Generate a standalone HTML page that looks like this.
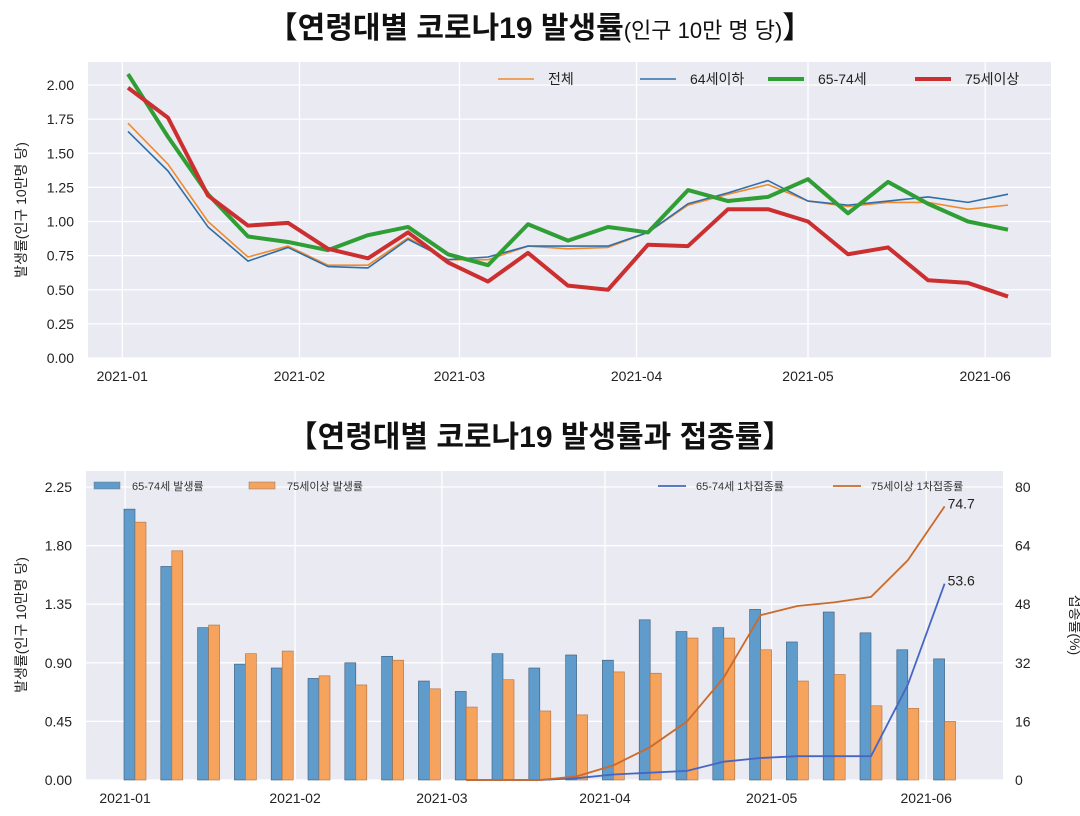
<!DOCTYPE html>
<html><head><meta charset="utf-8">
<style>
body{margin:0;background:#fff;}
svg text{font-family:"Liberation Sans","Noto Sans CJK KR",sans-serif;}
</style></head>
<body>
<svg id="svg" width="1080" height="811" viewBox="0 0 1080 811" xmlns="http://www.w3.org/2000/svg">
<text x="540" y="38" text-anchor="middle" font-size="30" font-weight="bold" fill="#111">【연령대별 코로나19 발생률<tspan font-size="22" font-weight="normal">(인구 10만 명 당)</tspan>】</text>
<text x="540" y="447" text-anchor="middle" font-size="30" font-weight="bold" fill="#111">【연령대별 코로나19 발생률과 접종률】</text>
<g id="top"></g>
<g id="bot"></g>
</svg>
<script>
const weeks = 23;
const monthLabels = ["2021-01","2021-02","2021-03","2021-04","2021-05","2021-06"];
const monthDayOffsets = [-1,30,58,89,119,150]; // days from first data week
const topYTicks = [0,0.25,0.5,0.75,1.0,1.25,1.5,1.75,2.0];
const total = [1.72,1.42,1.00,0.74,0.82,0.68,0.68,0.88,0.72,0.72,0.82,0.80,0.81,0.92,1.12,1.20,1.27,1.15,1.11,1.14,1.14,1.09,1.12];
const under64 = [1.66,1.37,0.96,0.71,0.81,0.67,0.66,0.87,0.72,0.74,0.82,0.82,0.82,0.92,1.13,1.21,1.30,1.15,1.12,1.15,1.18,1.14,1.20];
const age6574 = [2.08,1.62,1.20,0.89,0.85,0.79,0.90,0.96,0.76,0.68,0.98,0.86,0.96,0.92,1.23,1.15,1.18,1.31,1.06,1.29,1.13,1.00,0.94];
const age75 = [1.98,1.76,1.19,0.97,0.99,0.80,0.73,0.92,0.70,0.56,0.77,0.53,0.50,0.83,0.82,1.09,1.09,1.00,0.76,0.81,0.57,0.55,0.45];
const bar6574 = [2.08,1.64,1.17,0.89,0.86,0.78,0.90,0.95,0.76,0.68,0.97,0.86,0.96,0.92,1.23,1.14,1.17,1.31,1.06,1.29,1.13,1.00,0.93];
const bar75 = [1.98,1.76,1.19,0.97,0.99,0.80,0.73,0.92,0.70,0.56,0.77,0.53,0.50,0.83,0.82,1.09,1.09,1.00,0.76,0.81,0.57,0.55,0.45];
const vac6574 = [null,null,null,null,null,null,null,null,null,0,0,0,0.5,1.5,2,2.5,5,6,6.5,6.5,6.5,26,53.6];
const vac75 = [null,null,null,null,null,null,null,null,null,0,0,0,1,4,9,16,28,45,47.5,48.5,50,60,74.7];
const botYTicks = [0,0.45,0.9,1.35,1.8,2.25];
const botYTickLabels = ["0.00","0.45","0.90","1.35","1.80","2.25"];
const rightTicks = [0,16,32,48,64,80];
const botMonthPos = [-0.27,4.35,8.34,12.77,17.3,21.5];

const NS="http://www.w3.org/2000/svg";
function mk(parent,tag,attrs,txt){const e=document.createElementNS(NS,tag);for(const k in attrs)e.setAttribute(k,attrs[k]);if(txt!==undefined)e.textContent=txt;parent.appendChild(e);return e;}

// ---- top chart
const T=document.getElementById('top');
const tx0=88,tx1=1051,ty0=62,ty1=358;
const txd=d=>128+d*40/7;
const tyv=v=>358-v*136.5;
let bg=mk(T,'rect',{x:tx0,y:ty0,width:tx1-tx0,height:ty1-ty0,fill:'#eaeaf2'});

topYTicks.forEach(v=>{
  mk(T,'line',{x1:tx0,x2:tx1,y1:tyv(v),y2:tyv(v),stroke:'#fff','stroke-width':1.3});
  const t=mk(T,'text',{x:tx0-14,y:tyv(v)+5,'text-anchor':'end','font-size':14,fill:'#222'},v.toFixed(2));
  
});
monthLabels.forEach((m,i)=>{
  const x=txd(monthDayOffsets[i]);
  mk(T,'line',{x1:x,x2:x,y1:ty0,y2:ty1,stroke:'#fff','stroke-width':1.3});
  const t=mk(T,'text',{x:x,y:381,'text-anchor':'middle','font-size':14,fill:'#222'},m);
  
});
const yt=mk(T,'text',{x:0,y:0,transform:'translate(26,210) rotate(-90)','text-anchor':'middle','font-size':14,fill:'#222'},'발생률(인구 10만명 당)');

const topSeries=[[total,'#f08a2c',1.6,'전체','series-total'],[under64,'#2f6fa8',1.6,'64세이하','series-under64'],[age6574,'#2e9e35',4,'65-74세','series-65-74'],[age75,'#cc2f2f',4,'75세이상','series-75plus']];
topSeries.forEach(s=>{
  const p=mk(T,'polyline',{points:s[0].map((v,i)=>txd(i*7)+','+tyv(v)).join(' '),fill:'none',stroke:s[1],'stroke-width':s[2],'stroke-linejoin':'round'});
  
});
const legX=[498,640,768,915];
topSeries.forEach((s,i)=>{
  const g=mk(T,'g',{});
  
  mk(g,'line',{x1:legX[i],x2:legX[i]+36,y1:79,y2:79,stroke:s[1],'stroke-width':s[2]});
  mk(g,'text',{x:legX[i]+50,y:84,'font-size':14,fill:'#222'},s[3]);
});

// ---- bottom chart
const B=document.getElementById('bot');
const bx0=86,bx1=1003,by0=471,by1=780;
const bxc=i=>135+i*36.8;
const byv=v=>780-v*(293/2.25);
const byr=v=>780-v*(293/80);
bg=mk(B,'rect',{x:bx0,y:by0,width:bx1-bx0,height:by1-by0,fill:'#eaeaf2'});

botYTicks.forEach((v,i)=>{
  mk(B,'line',{x1:bx0,x2:bx1,y1:byv(v),y2:byv(v),stroke:'#fff','stroke-width':1.3});
  const t=mk(B,'text',{x:bx0-14,y:byv(v)+5,'text-anchor':'end','font-size':14,fill:'#222'},botYTickLabels[i]);
  
});
rightTicks.forEach(v=>{
  const t=mk(B,'text',{x:bx1+12,y:byr(v)+5,'font-size':14,fill:'#222'},String(v));
  
});
monthLabels.forEach((m,i)=>{
  const x=bxc(botMonthPos[i]);
  mk(B,'line',{x1:x,x2:x,y1:by0,y2:by1,stroke:'#fff','stroke-width':1.3});
  const t=mk(B,'text',{x:x,y:803,'text-anchor':'middle','font-size':14,fill:'#222'},m);
  
});
bar6574.forEach((v,i)=>{
  const r=mk(B,'rect',{x:bxc(i)-11,y:byv(v),width:11,height:byv(0)-byv(v),fill:'#5f9bcb',stroke:'#3a5a78','stroke-width':0.6});
  
});
bar75.forEach((v,i)=>{
  const r=mk(B,'rect',{x:bxc(i),y:byv(v),width:11,height:byv(0)-byv(v),fill:'#f6a35e',stroke:'#b07040','stroke-width':0.6});
  
});
[[vac6574,'#4566c4','vac-line-65-74'],[vac75,'#cc6a2a','vac-line-75plus']].forEach(s=>{
  const pts=[];s[0].forEach((v,i)=>{if(v!==null)pts.push(bxc(i)+','+byr(v));});
  const p=mk(B,'polyline',{points:pts.join(' '),fill:'none',stroke:s[1],'stroke-width':1.8});
  
  const last=s[0].length-1;
  const t=mk(B,'text',{x:bxc(last)+3,y:byr(s[0][last])+2,'font-size':14,fill:'#222'},s[0][last].toFixed(1));
  
});
let t2=mk(B,'text',{x:0,y:0,transform:'translate(26,625) rotate(-90)','text-anchor':'middle','font-size':14,fill:'#222'},'발생률(인구 10만명 당)');

t2=mk(B,'text',{x:0,y:0,transform:'translate(1070,625) rotate(90)','text-anchor':'middle','font-size':14,fill:'#222'},'접종률(%)');

const bl=[[94,'rect','#5f9bcb','65-74세 발생률'],[249,'rect','#f6a35e','75세이상 발생률'],[658,'line','#4566c4','65-74세 1차접종률'],[833,'line','#cc6a2a','75세이상 1차접종률']];
bl.forEach(l=>{
  const g=mk(B,'g',{});
  
  if(l[1]==='rect')mk(g,'rect',{x:l[0],y:482,width:26,height:7,fill:l[2],stroke:'#777','stroke-width':0.5});
  else mk(g,'line',{x1:l[0],x2:l[0]+28,y1:486,y2:486,stroke:l[2],'stroke-width':1.8});
  mk(g,'text',{x:l[0]+(l[1]==='rect'?38:38),y:490,'font-size':11,fill:'#333'},l[3]);
});
</script>
</body></html>
